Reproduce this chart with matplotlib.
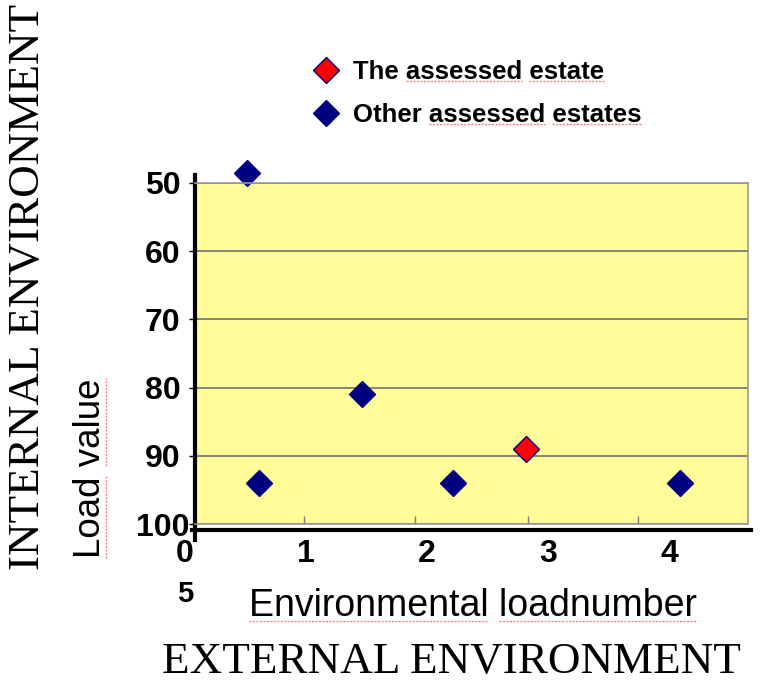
import matplotlib
matplotlib.use('Agg')
import matplotlib.pyplot as plt
from matplotlib.lines import Line2D

# environmental load values of the estates
other_x = [0.51, 0.61, 1.46, 2.21, 4.09]
other_y = [48.5, 94.0, 80.9, 94.0, 94.0]
estate_x = [2.82]
estate_y = [89.0]

y_ticks = [50, 60, 70, 80, 90, 100]
x_ticks = [0, 1, 2, 3, 4]
x_tick_labels = ['0', '1', '2', '3', '4']
x_inner_ticks = [0.98, 1.90, 2.83, 3.74]

plt.rcParams['font.family'] = 'Liberation Sans'

W, H = 771, 686
fig = plt.figure(figsize=(W / 100, H / 100), dpi=100)
ax = fig.add_axes([195 / W, 162 / H, 553 / W, 341 / H])
ax.set_facecolor('#FFFC99')
ax.set_xlim(0.083, 4.65)
ax.set_ylim(100, 50)

ax.set_yticks(y_ticks)
ax.yaxis.grid(True, color='#7a7a7a', lw=1.3)
ax.set_axisbelow(True)
for side in ['top', 'right', 'bottom']:
    ax.spines[side].set_color('#9a9a9a')
    ax.spines[side].set_linewidth(1.2)
ax.spines['left'].set_visible(False)

ax.tick_params(axis='y', direction='out', length=4.3, width=1, color='black',
               labelsize=23, pad=19)
for lab in ax.get_yticklabels():
    lab.set_fontweight('bold')
    lab.set_ha('center')

ax.set_xticks(x_inner_ticks)
ax.tick_params(axis='x', direction='in', length=5.5, width=1, color='#7a7a7a',
               labelbottom=False)

# heavy black axis lines
ax.add_line(Line2D([0, 0], [-0.047, 1.023], transform=ax.transAxes,
                   color='black', lw=3, clip_on=False))
ax.add_line(Line2D([-0.005, 1.005], [-0.018, -0.018], transform=ax.transAxes,
                   color='black', lw=3, clip_on=False))

xt = ax.get_xaxis_transform()
for v, s in zip(x_ticks, x_tick_labels):
    ax.text(v, -0.087, s, transform=xt, ha='center', va='center',
            fontsize=23, fontweight='bold')
ax.text(0, -0.205, '5', transform=xt, ha='center', va='center',
        fontsize=21, fontweight='bold')

ax.plot(estate_x, estate_y, 'D', ms=13, mfc='#FF0000', mec='#000080', mew=1,
        clip_on=False, label='The assessed estate')
ax.plot(other_x, other_y, 'D', ms=13, mfc='#000080', mec='#000080', mew=1,
        clip_on=False, label='Other assessed estates')

leg = fig.legend(loc='upper left', bbox_to_anchor=(313 / W, 1 - 60 / H),
                 frameon=False, prop=dict(weight='bold', size=18.5),
                 handlelength=1, handletextpad=0.55, labelspacing=0.74,
                 borderpad=0, borderaxespad=0)

xlab = fig.text(473 / W, 1 - 606 / H, 'Environmental loadnumber',
                fontsize=27, ha='center', va='center')
ylab = fig.text(90 / W, 1 - 468 / H, 'Load value', rotation=90,
                fontsize=26.5, ha='center', va='center')
fig.text(451 / W, 1 - 662 / H, 'EXTERNAL ENVIRONMENT', family='Liberation Serif',
         fontsize=32.5, ha='center', va='center')
fig.text(28 / W, 1 - 287 / H, 'INTERNAL ENVIRONMENT', family='Liberation Serif',
         fontsize=32.5, rotation=90, ha='center', va='center')

# red dotted spell-check marks under some words
fig.canvas.draw()
renderer = fig.canvas.get_renderer()


def text_w(s, fp):
    t = fig.text(0, 0, s, fontproperties=fp)
    w = t.get_window_extent(renderer).width
    t.remove()
    return w


def mark_words(txt, words, vertical=False):
    bb = txt.get_window_extent(renderer)
    s = txt.get_text()
    fp = txt.get_fontproperties()
    style = dict(color='#ee3030', lw=1.0, ls=(0, (1.5, 1)), alpha=0.6)
    for w in words:
        i = s.index(w)
        w_len = text_w(w, fp)
        start = text_w(s[:i] + w, fp) - w_len
        if vertical:
            x = bb.x1 - 2
            y0, y1 = bb.y0 + start, bb.y0 + start + w_len
            fig.add_artist(Line2D([x / W, x / W], [y0 / H, y1 / H], **style))
        else:
            y = bb.y0 + 3
            x0, x1 = bb.x0 + start, bb.x0 + start + w_len
            fig.add_artist(Line2D([x0 / W, x1 / W], [y / H, y / H], **style))


mark_words(xlab, ['Environmental', 'loadnumber'])
mark_words(ylab, ['Load', 'value'], vertical=True)
t1, t2 = leg.get_texts()
mark_words(t1, ['assessed', 'estate'])
mark_words(t2, ['assessed', 'estates'])

fig.savefig('out.png', dpi=100)
